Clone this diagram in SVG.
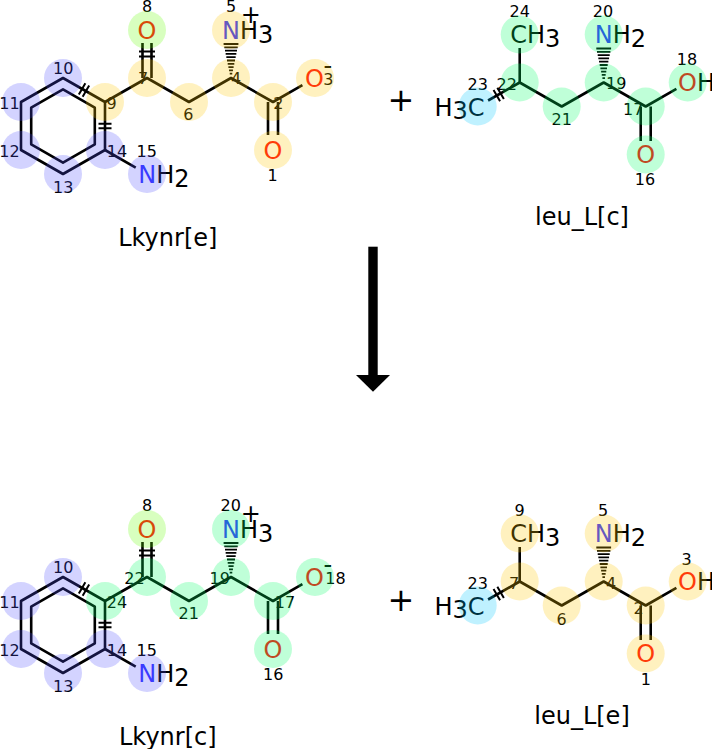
<svg xmlns="http://www.w3.org/2000/svg" xmlns:xlink="http://www.w3.org/1999/xlink" width="712" height="749" viewBox="0 0 712 749">
<style>
.b{stroke:#000;stroke-width:2.6;fill:none;stroke-linejoin:round}
.tk{stroke:#000;stroke-width:2;fill:none}
.hs{stroke:#000;stroke-width:1.8;fill:none}
.a{font-family:"DejaVu Sans","Bitstream Vera Sans",sans-serif;font-size:24px;fill:#000}
.n{font-family:"DejaVu Sans","Bitstream Vera Sans",sans-serif;font-size:16px;fill:#000;text-anchor:middle}
.m{text-anchor:middle}
.e{text-anchor:end}
.O{fill:#FF0D0D}
.N{fill:#3333FF}
.ttl{font-family:"DejaVu Sans","Bitstream Vera Sans",sans-serif;font-size:24px;fill:#000;text-anchor:middle}
.pl{font-family:"DejaVu Sans","Bitstream Vera Sans",sans-serif;font-size:32px;fill:#000;text-anchor:middle}
.y{fill:#FFC800;fill-opacity:.25}
.g{fill:#00FF64;fill-opacity:.25}
.lg{fill:#64FF00;fill-opacity:.25}
.bl{fill:#5050FF;fill-opacity:.25}
.c{fill:#00C8FF;fill-opacity:.25}
</style>
<defs>
<path id="hash" class="hs" d="M-7.4,-34H7.4M-6.7,-30.7H6.7M-6,-27.4H6M-5.35,-24.1H5.35M-4.67,-20.8H4.67M-4,-17.5H4M-3.3,-14.2H3.3M-2.6,-10.9H2.6M-1.95,-7.6H1.95M-1.27,-4.3H1.27"/>
<path id="tick" class="tk" d="M-2.2,-6.5V6.5M2.2,-6.5V6.5"/>
<path id="tickL" class="tk" d="M-2.4,-8V8M2.4,-8V8"/>
<g id="bondsLk">
<polygon class="b" points="63,78 105,102 105,150 63,174 21,150 21,102"/>
<polygon class="b" points="63,89.3 94.8,107.65 94.8,144.35 63,162.7 31.2,144.35 31.2,107.65"/>
<path class="b" d="M105,102L147,78L189,102L231,78L273,102L302.4,85.2"/>
<path class="b" d="M105,150L135.7,167.6"/>
<path class="b" d="M142.5,78V43M151.5,78V43"/>
<path class="b" d="M268,102V135M278,102V135"/>
<use xlink:href="#hash" x="231" y="78"/>
<use xlink:href="#tick" transform="translate(84,90) rotate(30)"/>
<use xlink:href="#tick" transform="translate(105,126) rotate(90)"/>
<use xlink:href="#tickL" transform="translate(147,54) rotate(90)"/>
</g>
<g id="bondsLeu">
<path class="b" d="M488.1,100.5L519.7,82.5L561.7,106.5L603.7,82.5L645.7,106.5L676.4,88.9"/>
<path class="b" d="M519.7,82.5V48"/>
<path class="b" d="M640.7,106.5V141M650.7,106.5V141"/>
<use xlink:href="#hash" x="603.7" y="82.5"/>
<use xlink:href="#tick" transform="translate(498.7,94.5) rotate(-30)"/>
</g>
</defs>

<g id="connectors">
<use xlink:href="#bondsLk"/>
<use xlink:href="#bondsLeu"/>
<use xlink:href="#bondsLk" y="499"/>
<use xlink:href="#bondsLeu" y="499"/>
<g id="reaction-arrow">
<rect x="368.3" y="246.7" width="9.4" height="129.3" fill="#000"/>
<polygon points="356,375 390,375 373,391.7" fill="#000"/>
</g>
</g>

<g id="plus-top"><text class="pl" x="401" y="111">+</text></g>
<g id="plus-bottom"><text class="pl" x="401" y="611">+</text></g>

<!-- Lkynr[e] -->
<g id="Lkynr_e">
<g id="Lkynr_e-O8"><text class="a O m" x="147" y="39">O</text><text class="n" x="147" y="11.7">8</text><circle class="lg" cx="147" cy="30" r="19"/></g>
<g id="Lkynr_e-N5"><text class="a" x="222" y="39.3"><tspan class="N">N</tspan>H<tspan dy="3.4">3</tspan></text><text class="a m" x="250.8" y="22.7">+</text><text class="n" x="231" y="11.7">5</text><circle class="y" cx="231" cy="30" r="19"/></g>
<g id="Lkynr_e-C7"><text class="n" x="143" y="84">7</text><circle class="y" cx="147" cy="78" r="19"/></g>
<g id="Lkynr_e-C9"><text class="n" x="111.7" y="109.3">9</text><circle class="y" cx="105" cy="102" r="19"/></g>
<g id="Lkynr_e-C6"><text class="n" x="188.3" y="120">6</text><circle class="y" cx="189" cy="102" r="19"/></g>
<g id="Lkynr_e-C4"><text class="n" x="236" y="83.5">4</text><circle class="y" cx="231" cy="78" r="19"/></g>
<g id="Lkynr_e-C2"><text class="n" x="278.3" y="109.3">2</text><circle class="y" cx="273" cy="102" r="19"/></g>
<g id="Lkynr_e-O3"><text class="a O m" x="314.5" y="87.3">O</text><text class="a" x="323.5" y="73.5">-</text><text class="n" x="328.3" y="85">3</text><circle class="y" cx="315" cy="78" r="19"/></g>
<g id="Lkynr_e-O1"><text class="a O m" x="273" y="159">O</text><text class="n" x="272.7" y="181">1</text><circle class="y" cx="273" cy="150" r="19"/></g>
<g id="Lkynr_e-C10"><text class="n" x="63.3" y="74">10</text><circle class="bl" cx="63" cy="78" r="19"/></g>
<g id="Lkynr_e-C11"><text class="n" x="9.5" y="109">11</text><circle class="bl" cx="21" cy="102" r="19"/></g>
<g id="Lkynr_e-C12"><text class="n" x="9.5" y="156.5">12</text><circle class="bl" cx="21" cy="150" r="19"/></g>
<g id="Lkynr_e-C13"><text class="n" x="63.3" y="192.7">13</text><circle class="bl" cx="63" cy="174" r="19"/></g>
<g id="Lkynr_e-C14"><text class="n" x="117" y="156.5">14</text><circle class="bl" cx="105" cy="150" r="19"/></g>
<g id="Lkynr_e-N15"><text class="a" x="138.2" y="183.3"><tspan class="N">N</tspan>H<tspan dy="3.4">2</tspan></text><text class="n" x="146.7" y="156.5">15</text><circle class="bl" cx="147" cy="174" r="19"/></g>
<text class="ttl" x="167.8" y="245.5">Lkynr[e]</text>
</g>

<!-- leu_L[c] -->
<g id="leu_L_c">
<g id="leu_L_c-C24"><text class="a" x="510.3" y="43.3">CH<tspan dy="3.4">3</tspan></text><text class="n" x="519.7" y="16.7">24</text><circle class="g" cx="519.7" cy="34.5" r="19"/></g>
<g id="leu_L_c-N20"><text class="a" x="594.7" y="43.3"><tspan class="N">N</tspan>H<tspan dy="3.4">2</tspan></text><text class="n" x="603" y="16.7">20</text><circle class="g" cx="603.7" cy="34.5" r="19"/></g>
<g id="leu_L_c-C23"><text class="a e" x="484.5" y="115.8">H<tspan dy="3.4">3</tspan><tspan dy="-3.4">C</tspan></text><text class="n" x="477.7" y="90">23</text><circle class="c" cx="477.7" cy="106.5" r="19"/></g>
<g id="leu_L_c-C22"><text class="n" x="506.7" y="90">22</text><circle class="g" cx="519.7" cy="82.5" r="19"/></g>
<g id="leu_L_c-C21"><text class="n" x="561.7" y="125">21</text><circle class="g" cx="561.7" cy="106.5" r="19"/></g>
<g id="leu_L_c-C19"><text class="n" x="616.3" y="89.3">19</text><circle class="g" cx="603.7" cy="82.5" r="19"/></g>
<g id="leu_L_c-C17"><text class="n" x="633.3" y="115">17</text><circle class="g" cx="645.7" cy="106.5" r="19"/></g>
<g id="leu_L_c-O18"><text class="a" x="678" y="91.4"><tspan class="O">O</tspan>H</text><text class="n" x="687" y="65">18</text><circle class="g" cx="687.7" cy="82.5" r="19"/></g>
<g id="leu_L_c-O16"><text class="a O m" x="645.7" y="163.4">O</text><text class="n" x="645" y="185">16</text><circle class="g" cx="645.7" cy="154.5" r="19"/></g>
<text class="ttl" x="582" y="225">leu_L[c]</text>
</g>

<!-- Lkynr[c] -->
<g id="Lkynr_c">
<g id="Lkynr_c-O8"><text class="a O m" x="147" y="538">O</text><text class="n" x="147" y="511">8</text><circle class="lg" cx="147" cy="529" r="19"/></g>
<g id="Lkynr_c-N20"><text class="a" x="222" y="538.3"><tspan class="N">N</tspan>H<tspan dy="3.4">3</tspan></text><text class="a m" x="250.8" y="521.7">+</text><text class="n" x="230.7" y="511">20</text><circle class="g" cx="231" cy="529" r="19"/></g>
<g id="Lkynr_c-C22"><text class="n" x="134.5" y="583.5">22</text><circle class="g" cx="147" cy="577" r="19"/></g>
<g id="Lkynr_c-C24"><text class="n" x="117" y="608.3">24</text><circle class="g" cx="105" cy="601" r="19"/></g>
<g id="Lkynr_c-C21"><text class="n" x="188.8" y="619.3">21</text><circle class="g" cx="189" cy="601" r="19"/></g>
<g id="Lkynr_c-C19"><text class="n" x="219.7" y="584">19</text><circle class="g" cx="231" cy="577" r="19"/></g>
<g id="Lkynr_c-C17"><text class="n" x="285" y="608.3">17</text><circle class="g" cx="273" cy="601" r="19"/></g>
<g id="Lkynr_c-O18"><text class="a O m" x="314.5" y="586.3">O</text><text class="a" x="323.5" y="572.5">-</text><text class="n" x="335.5" y="584">18</text><circle class="g" cx="315" cy="577" r="19"/></g>
<g id="Lkynr_c-O16"><text class="a O m" x="273" y="658">O</text><text class="n" x="273.3" y="680">16</text><circle class="g" cx="273" cy="649" r="19"/></g>
<g id="Lkynr_c-C10"><text class="n" x="63.3" y="573">10</text><circle class="bl" cx="63" cy="577" r="19"/></g>
<g id="Lkynr_c-C11"><text class="n" x="9.5" y="608">11</text><circle class="bl" cx="21" cy="601" r="19"/></g>
<g id="Lkynr_c-C12"><text class="n" x="9.5" y="655.5">12</text><circle class="bl" cx="21" cy="649" r="19"/></g>
<g id="Lkynr_c-C13"><text class="n" x="63.3" y="691.7">13</text><circle class="bl" cx="63" cy="673" r="19"/></g>
<g id="Lkynr_c-C14"><text class="n" x="117" y="655.5">14</text><circle class="bl" cx="105" cy="649" r="19"/></g>
<g id="Lkynr_c-N15"><text class="a" x="138.2" y="682.3"><tspan class="N">N</tspan>H<tspan dy="3.4">2</tspan></text><text class="n" x="146.7" y="655.5">15</text><circle class="bl" cx="147" cy="673" r="19"/></g>
<text class="ttl" x="167.8" y="744.5">Lkynr[c]</text>
</g>

<!-- leu_L[e] -->
<g id="leu_L_e">
<g id="leu_L_e-C9"><text class="a" x="510.3" y="542.3">CH<tspan dy="3.4">3</tspan></text><text class="n" x="519.5" y="516">9</text><circle class="y" cx="519.7" cy="533.5" r="19"/></g>
<g id="leu_L_e-N5"><text class="a" x="594.7" y="542.3"><tspan class="N">N</tspan>H<tspan dy="3.4">2</tspan></text><text class="n" x="603" y="516">5</text><circle class="y" cx="603.7" cy="533.5" r="19"/></g>
<g id="leu_L_e-C23"><text class="a e" x="484.5" y="614.8">H<tspan dy="3.4">3</tspan><tspan dy="-3.4">C</tspan></text><text class="n" x="477.7" y="589">23</text><circle class="c" cx="477.7" cy="605.5" r="19"/></g>
<g id="leu_L_e-C7"><text class="n" x="514" y="589">7</text><circle class="y" cx="519.7" cy="581.5" r="19"/></g>
<g id="leu_L_e-C6"><text class="n" x="561.7" y="625">6</text><circle class="y" cx="561.7" cy="605.5" r="19"/></g>
<g id="leu_L_e-C4"><text class="n" x="611" y="589">4</text><circle class="y" cx="603.7" cy="581.5" r="19"/></g>
<g id="leu_L_e-C2"><text class="n" x="638.5" y="614">2</text><circle class="y" cx="645.7" cy="605.5" r="19"/></g>
<g id="leu_L_e-O3"><text class="a" x="678" y="590.4"><tspan class="O">O</tspan>H</text><text class="n" x="686.7" y="565">3</text><circle class="y" cx="687.7" cy="581.5" r="19"/></g>
<g id="leu_L_e-O1"><text class="a O m" x="645.7" y="662.4">O</text><text class="n" x="645.8" y="685">1</text><circle class="y" cx="645.7" cy="653.5" r="19"/></g>
<text class="ttl" x="582" y="724">leu_L[e]</text>
</g>
</svg>
